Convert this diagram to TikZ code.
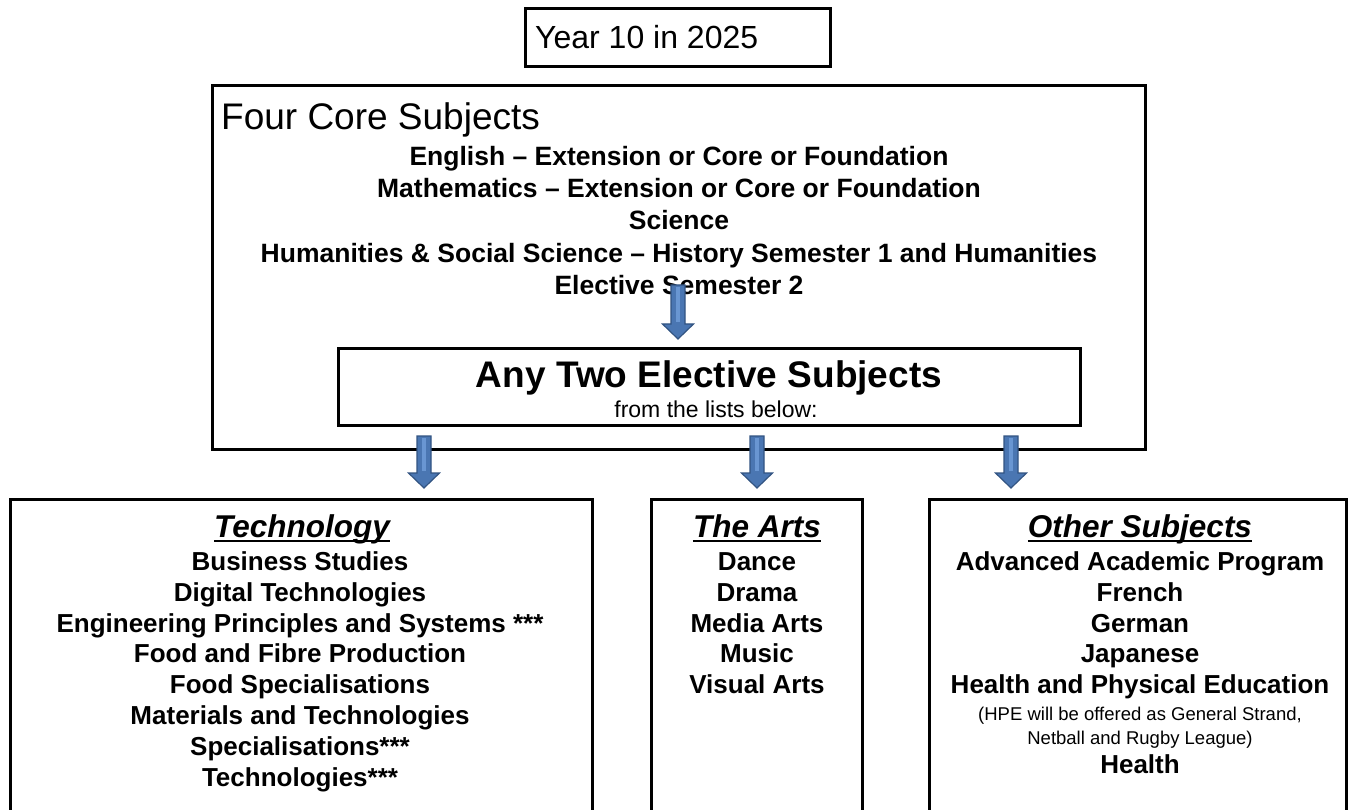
\documentclass[tikz,border=0pt]{standalone}
\usepackage{fontspec}
\setmainfont{Liberation Sans}
\definecolor{arrowblue}{RGB}{74,118,178}
\definecolor{arrowdark}{RGB}{50,84,130}
\definecolor{arrowlight}{RGB}{105,150,210}
\newcommand\blockarrow[3]{%
  \filldraw[fill=arrowblue, draw=arrowdark, line width=1.2, line join=miter]
    (#1-7,#2) -- (#1+7,#2) -- (#1+7,#3-15) -- (#1+15.5,#3-15) -- (#1,#3)
    -- (#1-15.5,#3-15) -- (#1-7,#3-15) -- cycle;
  \fill[arrowlight] (#1-2.2,#2+2) rectangle (#1+2.2,#3-17);
}
\begin{document}
\begin{tikzpicture}[x=1pt,y=-1pt,
  box/.style={draw=black, line width=3, inner sep=0, minimum width=#1},
  lbl/.style={inner sep=0, anchor=base},
  coretxt/.style={lbl, font=\bfseries\fontsize{26.5}{32}\selectfont},
  itemtxt/.style={lbl, font=\bfseries\fontsize{26}{31}\selectfont},
  hdrtxt/.style={lbl, font=\bfseries\itshape\fontsize{31.5}{36}\selectfont},
  smalltxt/.style={lbl, font=\fontsize{18.5}{22}\selectfont}
]
\useasboundingbox (0,0) rectangle (1355,810);
\clip (0,0) rectangle (1355,810);
\fill[white] (0,0) rectangle (1355,810);

% boxes
\node[box=305, minimum height=58] (year) at (678,37.5) {};
\node[box=933, minimum height=364] (core) at (679,267.5) {};
\node[box=742, minimum height=77, fill=white] (elect) at (709.5,387) {};
\node[box=582, minimum height=330] (tech) at (301.5,664) {};
\node[box=211, minimum height=330] (arts) at (757,664) {};
\node[box=417, minimum height=330] (other) at (1138,664) {};

% top texts
\node[lbl, anchor=base west, font=\fontsize{32}{38}\selectfont] (yeartxt) at (535,49) {Year 10 in 2025};
\node[lbl, anchor=base west, font=\fontsize{37}{44}\selectfont] (coretitle) at (221,130) {Four Core Subjects};
\node[coretxt] (c1) at (679,166) {English – Extension or Core or Foundation};
\node[coretxt] (c2) at (679,198) {Mathematics – Extension or Core or Foundation};
\node[coretxt] (c3) at (679,230) {Science};
\node[coretxt] (c4) at (679,263) {Humanities \& Social Science – History Semester 1 and Humanities};
\node[coretxt] (c5) at (679,295) {Elective Semester 2};

\node[lbl, font=\bfseries\fontsize{37}{44}\selectfont] (electtitle) at (709,388) {Any Two Elective Subjects};
\node[lbl, font=\fontsize{23}{27}\selectfont] (electsub) at (716,417) {from the lists below:};

% headers
\node[hdrtxt] (techhdr) at (302,537) {Technology};
\node[hdrtxt] (artshdr) at (757,537) {The Arts};
\node[hdrtxt] (otherhdr) at (1140,537) {Other Subjects};
\foreach \h in {techhdr,artshdr,otherhdr}
  \draw[line width=2] ([yshift=-4]\h.base west) -- ([yshift=-4]\h.base east);

% technology items
\foreach \t [count=\i] in {Business Studies,Digital Technologies,Engineering Principles and Systems ***,Food and Fibre Production,Food Specialisations,Materials and Technologies,Specialisations***,Technologies***}
  \node[itemtxt] (tech\i) at (300,{570.5+30.8*(\i-1)}) {\t};

% arts items
\foreach \t [count=\i] in {Dance,Drama,Media Arts,Music,Visual Arts}
  \node[itemtxt] (arts\i) at (757,{570.5+30.8*(\i-1)}) {\t};

% other items
\foreach \t [count=\i] in {Advanced Academic Program,French,German,Japanese,Health and Physical Education}
  \node[itemtxt] (other\i) at (1140,{570.5+30.8*(\i-1)}) {\t};
\node[smalltxt] (hpe1) at (1140,720) {(HPE will be offered as General Strand,};
\node[smalltxt] (hpe2) at (1140,744) {Netball and Rugby League)};
\node[itemtxt] (health) at (1140,773) {Health};

% block arrows
\blockarrow{678}{285}{339}
\blockarrow{424}{436}{488}
\blockarrow{757}{436}{488}
\blockarrow{1011}{436}{488}
\end{tikzpicture}
\end{document}
